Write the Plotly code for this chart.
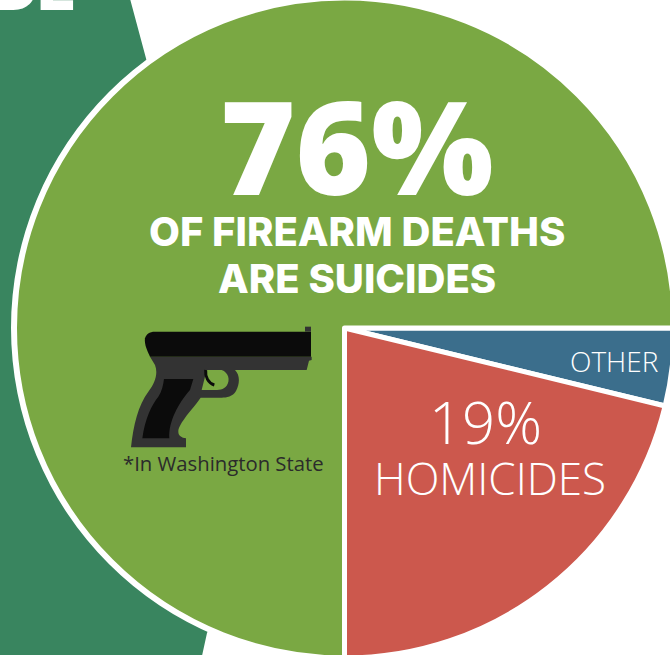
import plotly.graph_objects as go

categories = ["OTHER", "HOMICIDES", "SUICIDES"]
values = [3.8, 21.2, 75.0]
colors = ["#3B6E8C", "#CC584D", "#7AA843"]

DY = 4  # the page is shifted up by this much so the disc can touch the window's top edge
W, H = 690, 670
CX, CY, R = 344.5, 328, 330


def px(x):
    return x / W


def py(y):
    return 1 - (y + DY) / H


def path(tokens, ox=0.0, oy=0.0, s=1.0):
    out = []
    for t in tokens:
        if isinstance(t, str):
            out.append(t)
        else:
            out.append(f"{px(ox + t[0] * s):.5f},{py(oy + t[1] * s):.5f}")
    return " ".join(out)


GUN = dict(ox=110, oy=315, s=1 / 3)
frame = ["M", (120, 125), "L", (605, 125), "L", (605, 135), "L", (597, 137), "L", (590, 165), "L", (375, 165),
         "C", (390, 180), (390, 205), (378, 228), "C", (368, 245), (350, 248), (335, 248), "L", (272, 248),
         "C", (250, 280), (205, 325), (205, 350), "C", (205, 362), (215, 368), (228, 370), "L", (228, 397),
         "L", (63, 397), "C", (70, 330), (85, 270), (115, 230), "C", (135, 205), (145, 175), (135, 150), "Z"]
guard = ["M", (290, 165), "L", (335, 165), "C", (355, 172), (362, 195), (350, 212), "C", (342, 224), (325, 225),
         (310, 225), "L", (275, 225), "Z"]
slide = ["M", (135, 50), "L", (603, 50), "L", (603, 125), "L", (120, 125), "C", (108, 100), (103, 85), (105, 70),
         "C", (108, 58), (118, 50), (135, 50), "Z"]
sight = ["M", (585, 35), "L", (603, 35), "L", (603, 50), "L", (585, 50), "Z"]
grip = ["M", (162, 192), "L", (250, 192), "L", (240, 225), "C", (205, 265), (175, 320), (178, 370), "L", (97, 370),
        "C", (105, 310), (125, 270), (145, 245), "C", (155, 230), (160, 210), (162, 192), "Z"]
trigger = ["M", (287, 165), "C", (285, 185), (295, 205), (313, 210)]
backdrop = ["M", (-5, -5), "L", (129, -5), "L", (147, 62), "L", (340, 340), "L", (207, 633), "L", (200, 665),
            "L", (-5, 665), "Z"]


def shape(tokens, fill, layer="above", line=None, **kw):
    return dict(type="path", xref="paper", yref="paper", path=path(tokens, **kw), fillcolor=fill, layer=layer,
                line=line or dict(width=0))


RING = 333.5
shapes = [
    shape(backdrop, "#39855F", layer="below"),
    dict(type="circle", xref="paper", yref="paper", layer="below", fillcolor="white", line=dict(width=0),
         x0=px(CX - RING), x1=px(CX + RING), y0=py(CY + RING), y1=py(CY - RING)),
    shape(frame, "#333333", **GUN),
    shape(guard, "#7AA843", **GUN),
    shape(slide, "#0B0B0B", **GUN),
    shape(sight, "#333333", **GUN),
    shape(grip, "#0B0B0B", **GUN),
    dict(type="path", xref="paper", yref="paper", path=path(trigger, **GUN), fillcolor="rgba(0,0,0,0)",
         line=dict(color="#0B0B0B", width=3)),
]


def label(text, x, y, size, weight=400, color="white", family="Open Sans", xanchor="center"):
    return dict(text=text, x=px(x), y=py(y), xref="paper", yref="paper", xanchor=xanchor, yanchor="middle",
                showarrow=False, font=dict(family=family, size=size, color=color, weight=weight))


annotations = [
    label("76%", 357, 145, 129, 800),
    label("OF FIREARM DEATHS", 357, 232, 40, 800, family="Inter"),
    label("ARE SUICIDES", 357, 278, 40, 800, family="Inter"),
    label("19%", 485, 421, 58, 300),
    label("HOMICIDES", 490, 478, 44, 300),
    label("OTHER", 614, 361, 28, 300),
    label("*In Washington State", 223, 463, 20.3, 400, color="#2B2B2B"),
    label("DE", 34, -13, 62, 900, family="Inter"),
]

fig = go.Figure(go.Pie(
    labels=categories,
    values=values,
    marker=dict(colors=colors, line=dict(color="white", width=5)),
    sort=False,
    direction="clockwise",
    rotation=90,
    textinfo="none",
    hoverinfo="label+percent",
    showlegend=False,
    domain=dict(x=[(CX - R) / W, (CX + R) / W], y=[1 - (CY + DY + R) / H, 1 - (CY + DY - R) / H]),
))
fig.update_layout(width=W, height=H, margin=dict(l=0, r=0, t=0, b=0), paper_bgcolor="white", plot_bgcolor="white",
                  shapes=shapes, annotations=annotations, showlegend=False)
fig.write_html("out.html", config=dict(displayModeBar=False),
               post_script=f"document.documentElement.style.overflow='hidden';document.body.style.overflow='hidden';document.body.style.margin='-{DY}px 0 0 0';")
